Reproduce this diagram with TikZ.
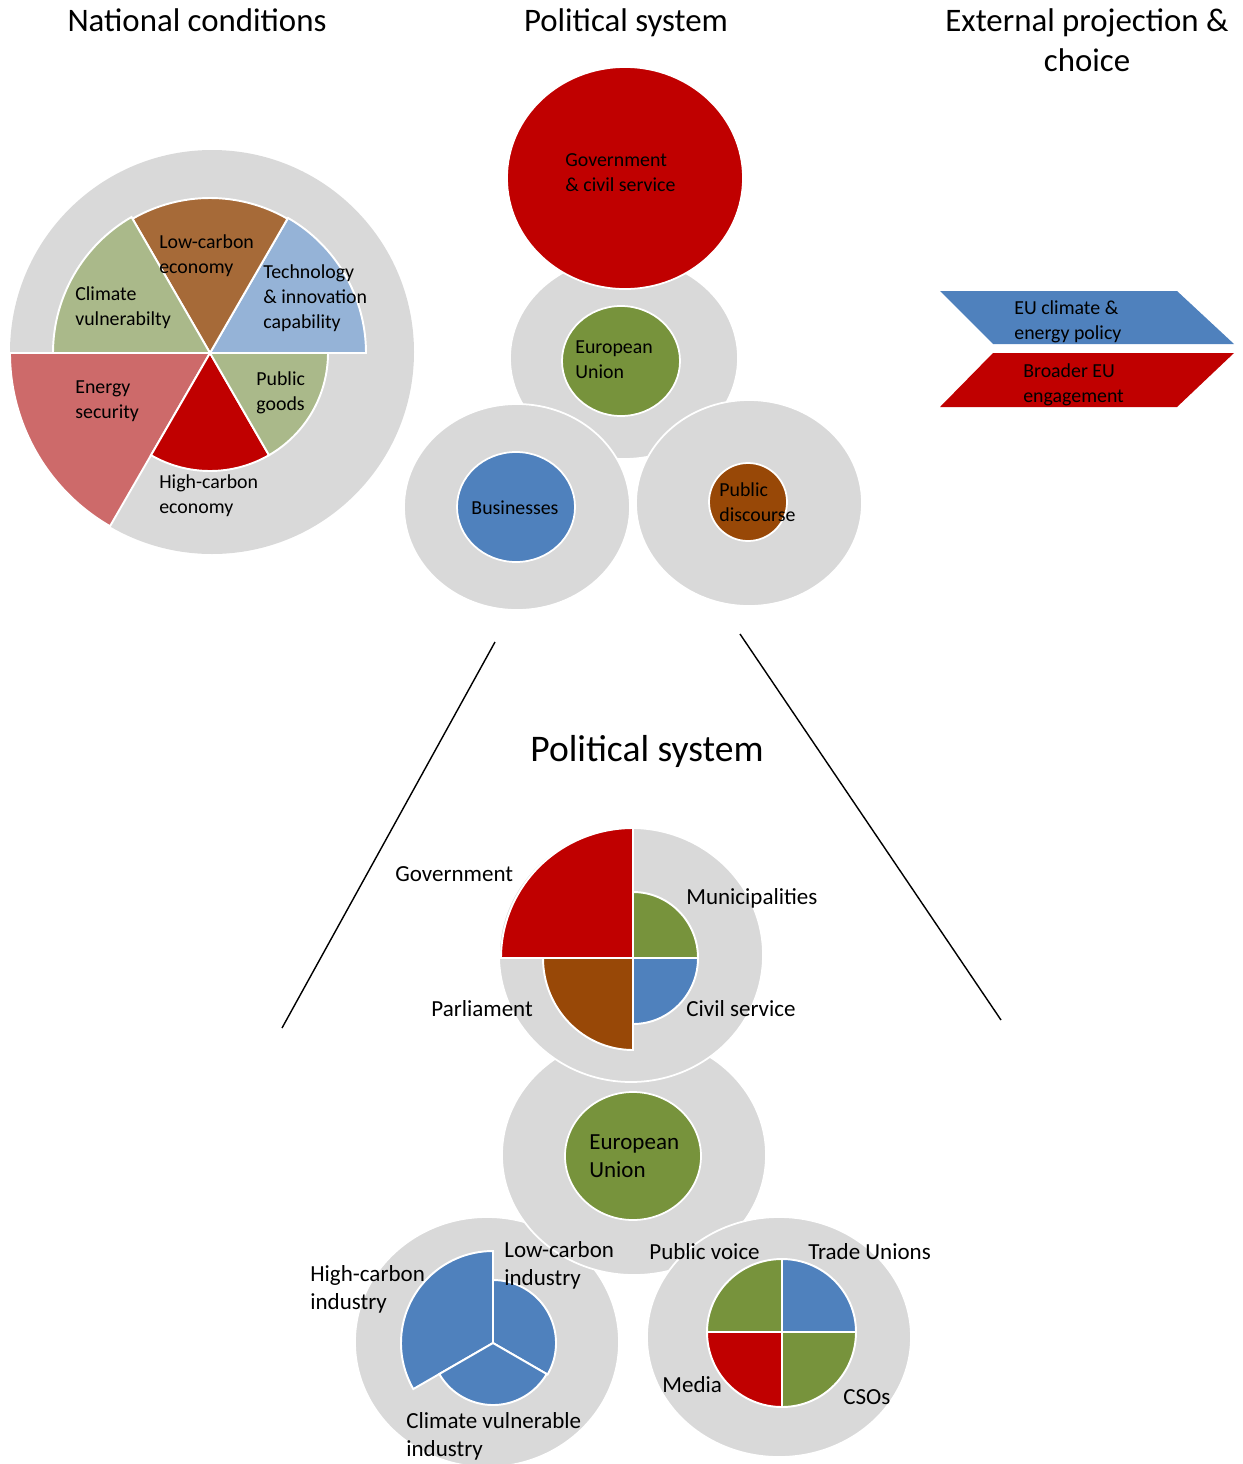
\documentclass[tikz,border=0pt]{standalone}
\usepackage{fontspec}
\setmainfont{Carlito}
\definecolor{cgray}{HTML}{D9D9D9}
\definecolor{cred}{HTML}{C00000}
\definecolor{cgreen}{HTML}{77933C}
\definecolor{cblue}{HTML}{4F81BD}
\definecolor{cbrown}{HTML}{984807}
\definecolor{lbrown}{HTML}{A66A38}
\definecolor{lblue}{HTML}{95B3D7}
\definecolor{lolive}{HTML}{AAB98A}
\definecolor{lred}{HTML}{CD6A6A}
\newcommand\pieslice[7]{\fill[#1, slicestyle] (#2,-#3) -- ++(#4:#6 and #7) arc[start angle=#4, end angle=#5, x radius=#6, y radius=#7] -- cycle;}
\tikzset{
  graydisc/.style={fill=cgray, draw=white, line width=1pt},
  slicestyle/.style={draw=white, line width=1.1pt},
  lbl/.style={font=\fontsize{11.3}{14.2}\selectfont, inner sep=0pt, align=left, anchor=west, yshift=-1.4pt},
  blbl/.style={font=\fontsize{13.1}{15.9}\selectfont, inner sep=0pt, align=left, anchor=west, yshift=-0.8pt},
  head/.style={font=\fontsize{18.7}{22.7}\selectfont, inner sep=0pt, align=center},
  thinline/.style={draw=black, line width=0.8pt},
}
\begin{document}
\begin{tikzpicture}[x=0.02cm, y=0.02cm]
\useasboundingbox (0,0) rectangle (1242,-1464);
% ---------- headings ----------
\node[head] (h1) at (197,-20) {National conditions};
\node[head] (h2) at (626,-23) {Political system};
\node[head] (h3) at (1087,-40) {External projection \&\\choice};
% ---------- national conditions pie ----------
\fill[cgray] (212,-352) circle[radius=202];
\pieslice{lblue}{210}{353}{0}{60}{156}{156}
\pieslice{lbrown}{210}{353}{60}{120}{155}{155}
\pieslice{lolive}{210}{353}{120}{180}{157}{157}
\pieslice{lred}{210}{353}{180}{240}{200}{200}
\pieslice{cred}{210}{353}{240}{300}{118}{118}
\pieslice{lolive}{210}{353}{300}{360}{118}{118}
\node[lbl] (lce) at (159,-253) {Low-carbon\\economy};
\node[lbl] (tic) at (263,-296) {Technology\\\& innovation\\capability};
\node[lbl] (cvu) at (75,-305) {Climate\\vulnerabilty};
\node[lbl] (ens) at (75,-399) {Energy\\security};
\node[lbl] (pgo) at (256,-390) {Public\\goods};
\node[lbl] (hce) at (159,-493) {High-carbon\\economy};
% ---------- political system (top) ----------
\filldraw[graydisc] (624,-358) ellipse[x radius=114, y radius=101];
\filldraw[fill=cred, draw=white, line width=1pt] (625,-178) ellipse[x radius=118, y radius=111];
\filldraw[fill=cgreen, draw=white, line width=1pt] (621,-361) ellipse[x radius=59, y radius=55];
\filldraw[graydisc] (517,-507) ellipse[x radius=113, y radius=103];
\filldraw[fill=cblue, draw=white, line width=1pt] (516,-507) ellipse[x radius=59, y radius=55];
\filldraw[graydisc] (749,-503) ellipse[x radius=113, y radius=103];
\filldraw[fill=cbrown, draw=white, line width=1pt] (748,-502) ellipse[x radius=39, y radius=39];
\node[lbl] (gcs) at (565,-170) {Government\\\& civil service};
\node[lbl] (eut) at (575,-357) {European\\Union};
\node[lbl, anchor=center] (bus) at (515,-505) {Businesses};
\node[lbl] (pdi) at (719,-500) {Public\\discourse};
% ---------- external projection chevron ----------
\fill[cblue] (940,-291) -- (1177,-291) -- (1234,-344) -- (993,-344) -- cycle;
\fill[cred] (993,-353) -- (1234,-353) -- (1177,-407) -- (940,-407) -- cycle;
\node[lbl] (ecp) at (1014,-319) {EU climate \&\\energy policy};
\node[lbl] (bee) at (1023,-382) {Broader EU\\engagement};
% ---------- zoom lines ----------
\coordinate (l1a) at (495,-642);
\coordinate (l1b) at (282,-1028);
\coordinate (l2a) at (740,-634);
\coordinate (l2b) at (1001,-1020);
\draw[thinline] (l1a) -- (l1b);
\draw[thinline] (l2a) -- (l2b);
\node[head, font=\fontsize{21.4}{26}\selectfont] (h4) at (647,-751) {Political system};
% ---------- bottom: left industry circle ----------
\filldraw[graydisc] (487,-1342) ellipse[x radius=132, y radius=125];
\pieslice{cblue}{493}{1343}{90}{210}{92}{92}
\pieslice{cblue}{493}{1343}{-30}{90}{63}{63}
\pieslice{cblue}{493}{1343}{210}{330}{62}{62}
% ---------- bottom: EU circle ----------
\filldraw[graydisc] (634,-1155) ellipse[x radius=132, y radius=120];
\filldraw[fill=cgreen, draw=white, line width=1pt] (633,-1156) ellipse[x radius=68, y radius=64];
% ---------- bottom: right public voice circle ----------
\filldraw[graydisc] (779,-1337) ellipse[x radius=132, y radius=120];
\pieslice{cblue}{782}{1332}{0}{90}{74}{73}
\pieslice{cgreen}{782}{1332}{90}{180}{75}{73}
\pieslice{cred}{782}{1332}{180}{270}{75}{75}
\pieslice{cgreen}{782}{1332}{270}{360}{74}{75}
% ---------- bottom: government pie ----------
\filldraw[graydisc] (631,-955) ellipse[x radius=132, y radius=127];
\pieslice{cred}{633}{958}{90}{180}{132}{130}
\pieslice{cgreen}{633}{958}{0}{90}{65}{66}
\pieslice{cblue}{633}{958}{270}{360}{65}{66}
\pieslice{cbrown}{633}{958}{180}{270}{90}{92}
% ---------- bottom labels ----------
\node[blbl] (bgov) at (395,-873) {Government};
\node[blbl] (bmun) at (686,-897) {Municipalities};
\node[blbl] (bpar) at (431,-1007) {Parliament};
\node[blbl] (bciv) at (686,-1007) {Civil service};
\node[blbl] (beu) at (589,-1155) {European\\Union};
\node[blbl] (bhci) at (310,-1288) {High-carbon\\industry};
\node[blbl] (blci) at (504,-1264) {Low-carbon\\industry};
\node[blbl] (bcvi) at (406,-1435) {Climate vulnerable\\industry};
\node[blbl] (bpv) at (649,-1250) {Public voice};
\node[blbl] (btu) at (808,-1250) {Trade Unions};
\node[blbl] (bmed) at (662,-1383) {Media};
\node[blbl] (bcso) at (843,-1396) {CSOs};
\end{tikzpicture}
\end{document}
